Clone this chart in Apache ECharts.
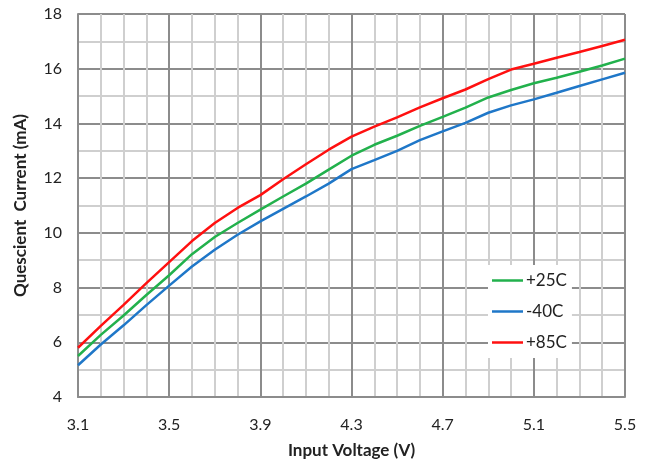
<!DOCTYPE html>
<html>
<head>
<meta charset="utf-8">
<script src="https://cdn.jsdelivr.net/npm/echarts@6/dist/echarts.min.js"></script>
<style>
html,body{margin:0;padding:0;background:#fff;}
#chart{width:649px;height:470px;}
</style>
</head>
<body>
<div id="chart"></div>
<script>
// Input voltage (V)
const voltages = [3.1,3.2,3.3,3.4,3.5,3.6,3.7,3.8,3.9,4.0,4.1,4.2,4.3,4.4,4.5,4.6,4.7,4.8,4.9,5.0,5.1,5.2,5.3,5.4,5.5];
// Quiescent current (mA)
const plus25 = [5.50,6.27,6.98,7.73,8.45,9.22,9.85,10.36,10.85,11.33,11.80,12.31,12.82,13.22,13.55,13.91,14.24,14.58,14.95,15.22,15.47,15.67,15.89,16.12,16.37];
const minus40 = [5.16,5.92,6.62,7.36,8.07,8.77,9.38,9.93,10.42,10.88,11.33,11.80,12.33,12.66,13.00,13.39,13.71,14.02,14.39,14.66,14.88,15.12,15.37,15.61,15.85];
const plus85 = [5.80,6.60,7.37,8.16,8.93,9.70,10.36,10.91,11.38,11.96,12.51,13.04,13.52,13.88,14.22,14.59,14.92,15.24,15.62,15.97,16.18,16.40,16.61,16.83,17.06];
const seriesNames = ['+25C','-40C','+85C'];
const xTickLabels = ['3.1','3.5','3.9','4.3','4.7','5.1','5.5'];
const yTickLabels = ['4','6','8','10','12','14','16','18'];

const V0 = 3.1; // axis origin; axis runs in 0.1 V steps from V0
const toAxis = v => Math.round((v - V0) * 10);
const pairs = arr => voltages.map((v, i) => [toAxis(v), arr[i]]);

const colors = ['#22b14c', '#1f77c8', '#ff1010'];
const font = 'Lato, "Open Sans", sans-serif';

const chart = echarts.init(document.getElementById('chart'), null, {renderer: 'canvas'});
chart.setOption({
  animation: false,
  backgroundColor: '#ffffff',
  grid: {left: 78, right: 24, top: 14, bottom: 73, containLabel: false},
  legend: {
    orient: 'vertical',
    left: 488, top: 265,
    padding: [7, 5, 7, 4],
    backgroundColor: '#ffffff',
    icon: 'rect',
    itemWidth: 31, itemHeight: 2.5, itemGap: 14,
    data: seriesNames,
    textStyle: {fontFamily: font, fontSize: 17, lineHeight: 17, color: '#222', padding: [0, 0, 0, -2]}
  },
  xAxis: {
    type: 'value', min: 0, max: 24, interval: 4,
    name: 'Input Voltage (V)', nameLocation: 'middle', nameGap: 45,
    nameTextStyle: {fontFamily: font, fontSize: 17, fontWeight: 'bold', color: '#222'},
    axisLine: {show: true, lineStyle: {color: '#8c8c8c', width: 2}},
    axisTick: {show: false},
    axisLabel: {
      fontFamily: font, fontSize: 16, color: '#222', margin: 20,
      formatter: val => xTickLabels[Math.round(val / 4)]
    },
    splitLine: {show: true, lineStyle: {color: '#8c8c8c', width: 2}},
    minorTick: {show: false, splitNumber: 4},
    minorSplitLine: {show: true, lineStyle: {color: '#cfcfcf', width: 2}}
  },
  yAxis: {
    type: 'value', min: 4, max: 18, interval: 2,
    name: 'Quescient  Current (mA)', nameLocation: 'middle', nameGap: 49, nameRotate: 90,
    nameTextStyle: {fontFamily: font, fontSize: 17, fontWeight: 'bold', color: '#222'},
    axisLine: {show: true, lineStyle: {color: '#8c8c8c', width: 2}},
    axisTick: {show: false},
    axisLabel: {
      fontFamily: font, fontSize: 16, color: '#222', margin: 16,
      formatter: val => yTickLabels[Math.round((val - 4) / 2)]
    },
    splitLine: {show: true, lineStyle: {color: '#8c8c8c', width: 2}},
    minorTick: {show: false, splitNumber: 2},
    minorSplitLine: {show: true, lineStyle: {color: '#cfcfcf', width: 2}}
  },
  series: [
    {name: seriesNames[0], type: 'line', data: pairs(plus25), color: colors[0]},
    {name: seriesNames[1], type: 'line', data: pairs(minus40), color: colors[1]},
    {name: seriesNames[2], type: 'line', data: pairs(plus85), color: colors[2]}
  ].map(s => Object.assign(s, {
    symbol: 'none', showSymbol: false, smooth: false,
    lineStyle: {width: 2.5, color: s.color}
  }))
});
</script>
</body>
</html>
